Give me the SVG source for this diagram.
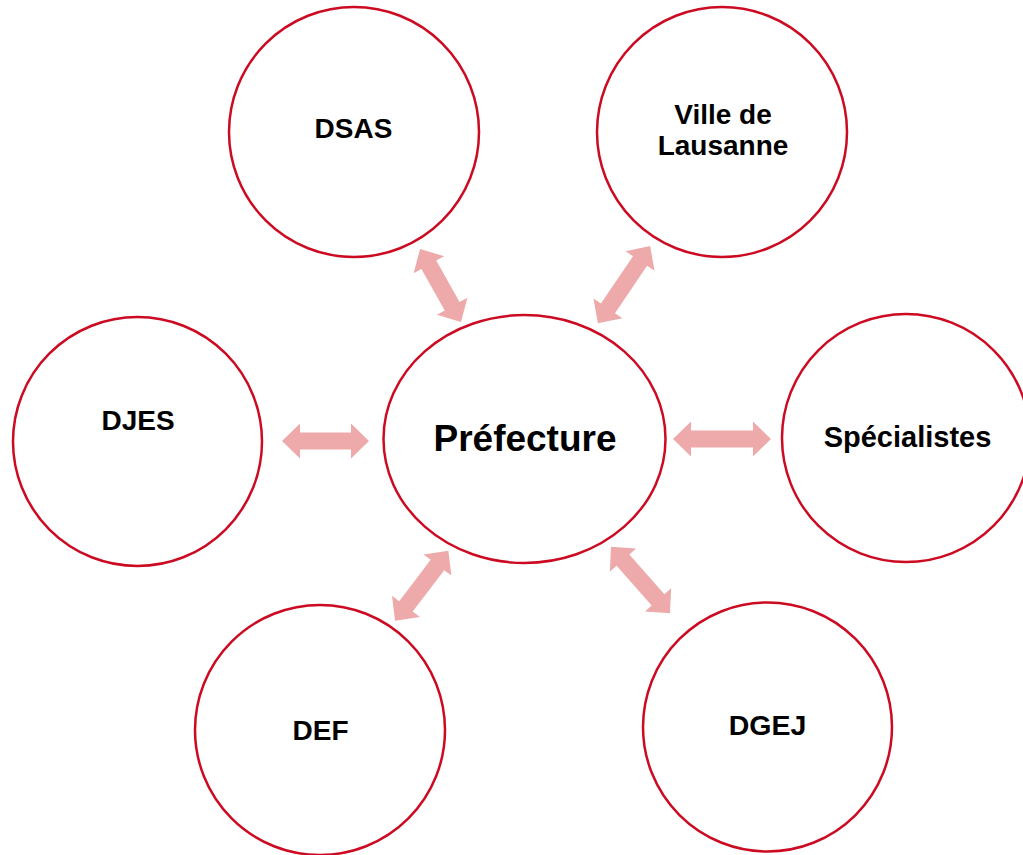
<svg xmlns="http://www.w3.org/2000/svg" width="1023" height="855" viewBox="0 0 1023 855">
<style>
.node{fill:#fff;stroke:#CC0A22;stroke-width:2.5}
.lbl{font-family:"Liberation Sans",Arial,sans-serif;font-weight:bold;fill:#000;text-anchor:middle}
.arr{fill:#EEAAAA;stroke:none}
</style>
<rect width="1023" height="855" fill="#fff"/>
<g id="connectors">
<path class="arr" transform="translate(325.5,441)" d="M-43.5,0 L-25.5,-17.5 L-25.5,-8.5 L25.5,-8.5 L25.5,-17.5 L43.5,0 L25.5,17.5 L25.5,8.5 L-25.5,8.5 L-25.5,17.5 Z"/>
<path class="arr" transform="translate(722,439)" d="M-49,0 L-31,-17.5 L-31,-8.5 L31,-8.5 L31,-17.5 L49,0 L31,17.5 L31,8.5 L-31,8.5 L-31,17.5 Z"/>
<path class="arr" transform="translate(440.5,285.5) rotate(60.7)" d="M-41.8,0 L-23.8,-17.5 L-23.8,-8.5 L23.8,-8.5 L23.8,-17.5 L41.8,0 L23.8,17.5 L23.8,8.5 L-23.8,8.5 L-23.8,17.5 Z"/>
<path class="arr" transform="translate(624,284.7) rotate(124.1)" d="M-46.6,0 L-28.6,-17.5 L-28.6,-8.5 L28.6,-8.5 L28.6,-17.5 L46.6,0 L28.6,17.5 L28.6,8.5 L-28.6,8.5 L-28.6,17.5 Z"/>
<path class="arr" transform="translate(421.7,585.7) rotate(127.3)" d="M-44,0 L-26,-17.5 L-26,-8.5 L26,-8.5 L26,-17.5 L44,0 L26,17.5 L26,8.5 L-26,8.5 L-26,17.5 Z"/>
<path class="arr" transform="translate(640.5,580) rotate(48.5)" d="M-44.5,0 L-26.5,-17.5 L-26.5,-8.5 L26.5,-8.5 L26.5,-17.5 L44.5,0 L26.5,17.5 L26.5,8.5 L-26.5,8.5 L-26.5,17.5 Z"/>
</g>
<g id="prefecture">
<ellipse class="node" cx="524.5" cy="439" rx="141" ry="124"/>
<text class="lbl" x="525" y="451" font-size="37">Préfecture</text>
</g>
<g id="dsas">
<circle class="node" cx="354" cy="132" r="125"/>
<text class="lbl" x="353.5" y="138" font-size="28">DSAS</text>
</g>
<g id="ville">
<circle class="node" cx="722" cy="132" r="125"/>
<text class="lbl" x="723" y="124" font-size="28">Ville de</text>
<text class="lbl" x="723" y="155" font-size="28">Lausanne</text>
</g>
<g id="djes">
<circle class="node" cx="137.5" cy="441.5" r="124.5"/>
<text class="lbl" x="138" y="430" font-size="28">DJES</text>
</g>
<g id="specialistes">
<circle class="node" cx="906" cy="438" r="124"/>
<text class="lbl" x="907.5" y="447" font-size="29">Spécialistes</text>
</g>
<g id="def">
<circle class="node" cx="320" cy="730" r="125"/>
<text class="lbl" x="320.5" y="740" font-size="28">DEF</text>
</g>
<g id="dgej">
<circle class="node" cx="767.5" cy="727" r="124.5"/>
<text class="lbl" x="767.5" y="735" font-size="28.5">DGEJ</text>
</g>
</svg>
